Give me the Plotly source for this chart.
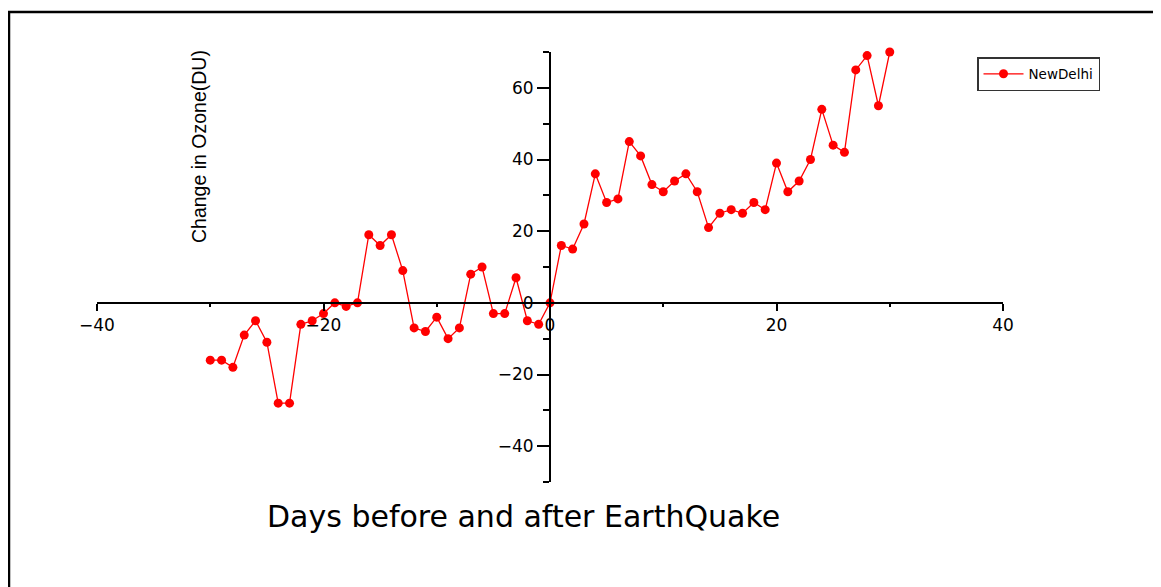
import plotly.graph_objects as go

# Data
days = list(range(-30, 31))
ozone_change = [
    -16, -16, -18, -9, -5, -11, -28, -28, -6, -5,
    -3, 0, -1, 0, 19, 16, 19, 9, -7, -8,
    -4, -10, -7, 8, 10, -3, -3, 7, -5, -6,
    0, 16, 15, 22, 36, 28, 29, 45, 41, 33,
    31, 34, 36, 31, 21, 25, 26, 25, 28, 26,
    39, 31, 34, 40, 54, 44, 42, 65, 69, 55,
    70,
]
series_name = "NewDelhi"
x_title = "Days before and after EarthQuake"
y_title = "Change in Ozone(DU)"
x_range = [-40, 40]
y_range = [-50, 70]

FONT = "Liberation Sans, Arial, sans-serif"
WIDE = "DejaVu Sans, Verdana, sans-serif"

# page has an 8px body margin: work in figure pixels = screen pixels - 8
OFF = 8
W, H = 1161 - OFF, 587 - OFF
L, R, T, B = 97 - OFF, 1003 - OFF, 52 - OFF, 482 - OFF

def px_x(p):
    return (p - OFF - L) / (R - L)

def px_y(p):
    return (B - (p - OFF)) / (B - T)

fig = go.Figure()
fig.add_trace(go.Scatter(
    x=days, y=ozone_change, mode="lines+markers", name=series_name,
    line=dict(color="#ff0000", width=1.3),
    marker=dict(color="#ff0000", size=9, symbol="circle"),
    cliponaxis=False,
))

x_pos = (0 - y_range[0]) / (y_range[1] - y_range[0])
y_pos = (0 - x_range[0]) / (x_range[1] - x_range[0])

fig.update_layout(
    width=W, height=H,
    margin=dict(l=L, r=W - R, t=T, b=H - B, pad=0),
    paper_bgcolor="white", plot_bgcolor="white",
    font=dict(family=FONT, color="black"),
    showlegend=True,
    legend=dict(
        x=px_x(977), y=px_y(57), xanchor="left", yanchor="top",
        bordercolor="#333333", borderwidth=1.5, bgcolor="white",
        font=dict(size=13.5, family=WIDE, color="black"),
        itemwidth=40,
    ),
    xaxis=dict(
        range=x_range, domain=[0, 1], anchor="free", position=x_pos,
        showline=True, linecolor="black", linewidth=2,
        showgrid=False, zeroline=False,
        tickmode="linear", tick0=0, dtick=20,
        ticks="outside", ticklen=7, tickwidth=2, tickcolor="black",
        minor=dict(dtick=10, tick0=0, ticks="outside", ticklen=3,
                   tickwidth=2, tickcolor="black"),
        tickfont=dict(size=17, family=WIDE, color="black"),
    ),
    yaxis=dict(
        range=y_range, domain=[0, 1], anchor="free", position=y_pos,
        showline=True, linecolor="black", linewidth=2,
        showgrid=False, zeroline=False,
        tickmode="linear", tick0=0, dtick=20,
        ticks="outside", ticklen=12, tickwidth=2, tickcolor="black",
        minor=dict(dtick=10, tick0=0, ticks="outside", ticklen=6,
                   tickwidth=2, tickcolor="black"),
        tickfont=dict(size=17, family=WIDE, color="black"),
    ),
    annotations=[
        dict(text=x_title, xref="paper", yref="paper",
             x=px_x(523), y=px_y(517), xanchor="center", yanchor="middle",
             showarrow=False, font=dict(size=30, family=WIDE, color="black")),
        dict(text=y_title, xref="paper", yref="paper",
             x=px_x(199), y=px_y(147), xanchor="center", yanchor="middle",
             textangle=-90,
             showarrow=False, font=dict(size=19.5, family=FONT, color="black")),
    ],
    shapes=[
        dict(type="rect", xref="paper", yref="paper",
             x0=px_x(9), x1=px_x(1185), y0=px_y(610), y1=px_y(12),
             line=dict(color="black", width=2.5), fillcolor="rgba(0,0,0,0)",
             layer="below"),
    ],
)

fig.write_html("out.html")
